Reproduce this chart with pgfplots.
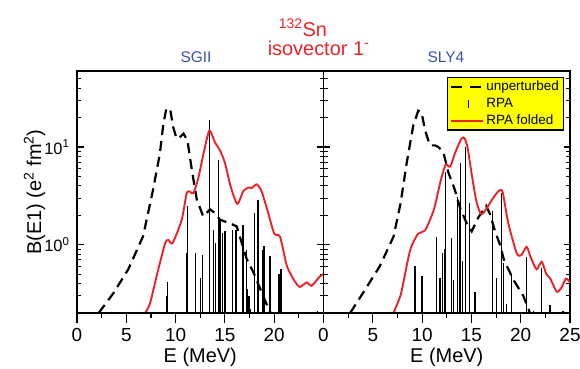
\documentclass[border=0pt]{standalone}
\usepackage{fontspec}
\setmainfont{Liberation Sans}
\usepackage{pgfplots}
\pgfplotsset{compat=1.18}
\definecolor{myred}{RGB}{235,35,40}
\definecolor{myblue}{RGB}{60,80,175}
\definecolor{legyellow}{RGB}{255,255,0}
\pgfplotsset{
 mypanel/.style={
   width=246.5bp, height=242bp, scale only axis,
   xmin=0, xmax=25, ymin=0.2, ymax=60,
   log origin y=infty,
   axis line style={line width=1.2bp},
   tick style={line width=1.1bp, black},
   major tick length=6.5bp, minor tick length=4bp,
   tick align=inside,
   xtick pos=left,
   major x tick style={draw opacity=0},
   minor x tick style={draw opacity=0},
   minor xtick={2.5,7.5,12.5,17.5,22.5},
   ytick={1,10},
   minor ytick={0.3,0.4,0.5,0.6,0.7,0.8,0.9,2,3,4,5,6,7,8,9,20,30,40,50},
   xticklabel style={font=\fontsize{19}{19}\selectfont, anchor=center, yshift=-22bp},
   yticklabel style={font=\fontsize{16.5}{16.5}\selectfont, xshift=-4bp},
   every axis x label/.style={at={(axis description cs:0.5,-0.182)}, anchor=center, font=\fontsize{20}{20}\selectfont},
   every axis y label/.style={at={(axis description cs:-0.172,0.5)}, rotate=90, anchor=center, font=\fontsize{20}{20}\selectfont},
   xlabel={E (MeV)},
 },
 xticksonly/.style={
   width=246.5bp, height=242bp, scale only axis,
   xmin=0, xmax=25, ymin=0, ymax=1,
   hide y axis, axis x line*=bottom,
   axis line style={line width=1.2bp, -},
   tick style={line width=1.1bp, black},
   tick align=outside, major tick length=10bp, minor tick length=5bp,
   minor xtick={2.5,7.5,12.5,17.5,22.5},
   xticklabels={},
 },
 unp/.style={black, line width=2.2bp, dash pattern=on 10bp off 6bp, no markers},
 rpa/.style={black, line width=1.3bp, ycomb, no markers},
 fold/.style={myred, line width=1.9bp, smooth, tension=0.4, no markers},
 legunp/.style={legend image code/.code={\draw[black, line width=2.2bp, dash pattern=on 11bp off 8bp] (0bp,0bp) -- (32bp,0bp);}},
 legrpa/.style={legend image code/.code={\draw[black, line width=1bp] (17bp,-4bp) -- (17bp,4bp);}},
 legfold/.style={legend image code/.code={\draw[myred, line width=1.9bp] (0bp,0bp) -- (32bp,0bp);}},
}
\begin{document}
\begin{tikzpicture}[x=1bp,y=1bp]
\path[use as bounding box] (0,0) rectangle (580,368);
% ---------------- SGII ----------------
\begin{axis}[ymode=log, mypanel, at={(77bp,55bp)}, anchor=south west,
  xtick={0,5,10,15,20}, xticklabels={0,5,10,15,20},
  yticklabels={10\textsuperscript{0},10\textsuperscript{1}},
  ylabel={B(E1) (e\textsuperscript{2} fm\textsuperscript{2})}]
\addplot[unp] coordinates {
(2.2,0.2) (3.7,0.32) (5.2,0.56) (6.7,1.22) (7.7,3.6) (8.4,8.5) (8.75,17)
(9.05,24.5) (9.45,24.5) (9.75,16) (10.1,12.2) (10.5,12.8) (10.8,13.7)
(11.2,11.7) (11.65,5.8) (12.15,2.9) (12.8,1.95) (13.5,2.3) (14.0,2.1)
(14.5,1.8) (15.5,1.66) (16.2,1.54) (16.7,1.05) (17.2,0.72) (17.9,0.52)
(18.6,0.35) (19.2,0.25) (19.65,0.2)};
\addplot[rpa] coordinates {
(9.1,0.3) (9.2,0.42) (11.1,0.82) (11.2,2.5) (12.0,0.82) (12.55,0.46)
(12.7,0.79) (13.42,18.7) (13.85,1.42) (14.05,1.04) (14.33,7.3) (14.5,1.8)
(14.77,1.31) (15.0,1.37) (15.8,1.42) (16.12,1.4) (16.85,1.6) (17.2,0.89)
(17.3,0.35) (17.45,0.3) (17.6,0.22) (18.0,2.1) (18.35,2.87) (18.8,0.89)
(18.95,0.96) (19.57,0.76) (20.5,0.5) (20.7,0.56) (24.4,0.21)};
\addplot[fold] coordinates {
(6.9,0.2) (7.4,0.25) (8.08,0.48) (8.92,1.02) (9.26,1.12) (9.7,1.04)
(10.62,1.8) (11.12,3.36) (11.46,3.49) (11.8,3.36) (12.3,4.8) (12.81,8.4)
(13.42,14.7) (14.0,11.1) (14.5,9.25) (15.0,6.9) (15.6,3.9) (16.26,2.62)
(16.87,3.55) (17.4,3.85) (17.72,3.8) (18.23,4.15) (18.73,3.5) (19.4,2.1)
(20.0,1.3) (20.6,1.2) (21.3,0.6) (22.1,0.42) (22.6,0.37) (23.3,0.41)
(23.8,0.38) (24.6,0.47) (25,0.5)};
\end{axis}
\begin{axis}[xticksonly, at={(77bp,55bp)}, anchor=south west, xtick={0,5,10,15,20}]
\end{axis}
% ---------------- SLY4 ----------------
\begin{axis}[ymode=log, mypanel, at={(323.5bp,55bp)}, anchor=south west,
  xtick={0,5,10,15,20,25}, xticklabels={0,5,10,15,20,25},
  yticklabels={},
  legend cell align=left,
  legend style={at={(rel axis cs:1,1)}, xshift=-6bp, yshift=-6bp, anchor=north east,
    fill=legyellow, draw=black, line width=1.3bp,
    font=\fontsize{13.5}{14}\selectfont,
    inner xsep=2.5bp, inner ysep=1bp, row sep=0bp,
    nodes={inner sep=2bp, text height=10bp, text depth=2.8bp},
    /tikz/every even column/.append style={column sep=15bp}},
  ]
\addplot[unp, legunp] coordinates {
(2.7,0.2) (4.0,0.32) (5.7,0.6) (7.1,1.21) (7.8,2.6) (8.45,7.0) (9.1,16.5)
(9.6,23.5) (9.95,22.5) (10.3,14.8) (10.8,10.4) (11.3,10.4) (11.65,10)
(12.15,8.9) (12.66,5.5) (13.3,3.7) (13.84,2.4) (14.52,1.66) (15.03,1.37)
(15.7,1.9) (16.5,2.5) (16.89,2.05) (17.4,1.37) (17.9,1.0) (18.3,0.7)
(19.25,0.44) (20.26,0.3) (20.94,0.2)};
\addlegendentry{unperturbed}
\addplot[rpa, legrpa] coordinates {
(9.28,0.6) (10.0,0.48) (11.45,1.21) (11.82,0.46) (12.09,0.82) (12.25,0.9)
(12.35,5.5) (13.0,1.17) (13.16,0.44) (13.57,3.1) (13.77,2.65) (13.91,6.8)
(14.12,0.68) (14.38,10) (14.79,2.65) (15.37,0.33) (17.16,2.2) (17.57,0.46)
(18.07,3.36) (18.24,0.65) (18.58,0.25) (19.09,0.5) (20.6,0.75) (21.28,0.21)
(22.13,0.58) (22.97,0.24) (24.3,0.21)};
\addlegendentry{RPA}
\addplot[fold, legfold] coordinates {
(7.1,0.2) (7.8,0.3) (8.1,0.41) (8.8,0.89) (9.6,1.3) (10.3,1.4) (11.2,2.3)
(11.9,4.6) (12.4,6.6) (12.85,6.3) (13.4,9.0) (14.0,12.2) (14.3,12.3)
(14.6,10) (15.0,5.5) (15.5,2.8) (16.0,2.05) (16.6,2.4) (17.1,2.9)
(17.6,3.4) (17.95,3.65) (18.2,3.36) (18.74,1.66) (19.59,0.82) (20.05,0.78)
(20.6,0.95) (21.0,0.75) (21.6,0.56) (22.13,0.67) (22.6,0.5) (23.0,0.45)
(23.65,0.33) (24.1,0.36) (24.6,0.45) (25,0.41)};
\addlegendentry{RPA folded}
\end{axis}
\begin{axis}[xticksonly, at={(323.5bp,55bp)}, anchor=south west, xtick={0,5,10,15,20,25}]
\end{axis}
% ---------------- titles ----------------
\node[anchor=base, text=myred, font=\fontsize{20}{20}\selectfont] at (303,332) {\textsuperscript{132}Sn};
\node[anchor=base, text=myred, font=\fontsize{20}{20}\selectfont] at (318.5,313) {isovector 1\textsuperscript{-}};
\node[anchor=base, text=myblue, font=\fontsize{15.5}{16}\selectfont] at (196,306) {SGII};
\node[anchor=base, text=myblue, font=\fontsize{15.5}{16}\selectfont] at (446,306) {SLY4};
\end{tikzpicture}
\end{document}
